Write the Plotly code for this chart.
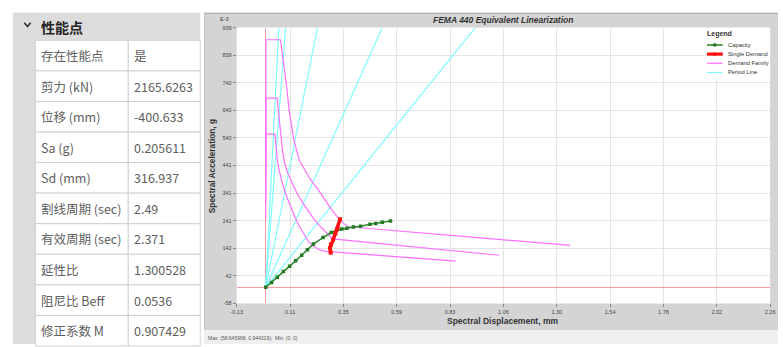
import numpy as np
import plotly.graph_objects as go

W, H = 783, 347

# ---------------- property table (left panel) ----------------
table_title = "性能点"
table_labels = ["存在性能点", "剪力 (kN)", "位移 (mm)", "Sa (g)", "Sd (mm)",
                "割线周期 (sec)", "有效周期 (sec)", "延性比", "阻尼比 Beff", "修正系数 M"]
table_values = ["是", "2165.6263", "-400.633", "0.205611", "316.937",
                "2.49", "2.371", "1.300528", "0.0536", "0.907429"]

# ---------------- chart data (Sa in E-3 g) ----------------
capacity_sd = [0, 0.026, 0.052, 0.079, 0.107, 0.134, 0.161, 0.187, 0.214, 0.257,
               0.294, 0.318, 0.341, 0.364, 0.393, 0.425, 0.467, 0.493, 0.522, 0.559]
capacity_sa = [0, 18, 37, 57, 76, 96, 116, 136, 157, 180,
               198, 206, 211, 214, 218, 221, 228, 231, 235, 240]

single_sd = [0.333, 0.322, 0.312, 0.302, 0.292, 0.288, 0.291]
single_sa = [246, 214, 195, 172, 155, 142, 125]

demand1_sd = [0, 0.001, 0.066, 0.076, 0.092, 0.105, 0.125, 0.150, 0.170, 0.200,
              0.235, 0.265, 0.294, 0.320, 0.345, 0.370, 1.364]
demand1_sa = [403, 895, 895, 839, 738, 640, 537, 460, 432, 390,
              353, 315, 282, 256, 234, 219, 152]

demand2_sd = [0, 0.001, 0.051, 0.058, 0.066, 0.075, 0.085, 0.100, 0.117, 0.140,
              0.169, 0.200, 0.220, 0.250, 0.280, 0.300, 1.045]
demand2_sa = [308, 684, 684, 620, 550, 495, 448, 410, 380, 340,
              302, 268, 242, 215, 192, 175, 116]

demand3_sd = [0, 0.001, 0.041, 0.046, 0.052, 0.060, 0.070, 0.088, 0.110, 0.130,
              0.147, 0.170, 0.191, 0.215, 0.242, 0.270, 0.851]
demand3_sa = [249, 554, 554, 505, 460, 425, 390, 341, 292, 255,
              226, 192, 166, 148, 136, 130, 95]

# Sd at which each period line reaches the top of the chart (Sa = 939 E-3)
period_sd_top = [0.0587, 0.089, 0.232, 0.5225, 0.939]
period_sa_top = 939

x_tick_labels = ["-0.13", "0.11", "0.35", "0.59", "0.83", "1.06", "1.30", "1.54", "1.78", "2.02", "2.26"]
y_tick_labels = ["-58", "42", "142", "241", "341", "441", "540", "640", "740", "839", "939"]

legend_names = ["Capacity", "Single Demand", "Demand Family", "Period Line"]

C_CAP = "#2e8b2e"
C_SINGLE = "#ff1010"
C_DEM = "#ff6eff"
C_PER = "#7ffcff"

# ---------------- geometry helpers (pixel -> paper) ----------------
def px(x):
    return x / W

def py(y):
    return 1 - y / H

PL, PR, PT, PB = 234, 775, 25, 305.7

x_min, x_max = float(x_tick_labels[0]), float(x_tick_labels[-1])
y_min, y_max = float(y_tick_labels[0]), float(y_tick_labels[-1])

fig = go.Figure()

# period lines
for xt in period_sd_top:
    fig.add_trace(go.Scatter(x=[0, xt], y=[0, period_sa_top], mode="lines",
                             line=dict(color=C_PER, width=1.2), hoverinfo="skip", showlegend=False))
# demand family
for sd, sa in [(demand1_sd, demand1_sa), (demand2_sd, demand2_sa), (demand3_sd, demand3_sa)]:
    fig.add_trace(go.Scatter(x=sd, y=sa, mode="lines",
                             line=dict(color=C_DEM, width=1.2), hoverinfo="skip", showlegend=False))
# capacity
fig.add_trace(go.Scatter(x=capacity_sd, y=capacity_sa, mode="lines+markers",
                         line=dict(color=C_CAP, width=1.6),
                         marker=dict(symbol="square", size=3.5, color="#237a23"),
                         hoverinfo="skip", showlegend=False))
# single demand
fig.add_trace(go.Scatter(x=single_sd, y=single_sa, mode="lines+markers",
                         line=dict(color=C_SINGLE, width=3.5),
                         marker=dict(symbol="square", size=4, color=C_SINGLE),
                         hoverinfo="skip", showlegend=False))

def rect(x0, y0, x1, y1, fill, line_color=None, lw=0, layer="below"):
    return dict(type="rect", xref="paper", yref="paper",
                x0=px(x0), x1=px(x1), y0=py(y1), y1=py(y0),
                fillcolor=fill, layer=layer,
                line=dict(color=line_color or fill, width=lw))

def seg(x0, y0, x1, y1, color, lw, layer="below"):
    return dict(type="line", xref="paper", yref="paper",
                x0=px(x0), x1=px(x1), y0=py(y0), y1=py(y1),
                line=dict(color=color, width=lw), layer=layer)

shapes = []
# left panel
shapes.append(rect(7, 10, 30, 347, "#dcdcdc"))
shapes.append(rect(7, 10, 197, 38, "#dcdcdc"))
row_top, row_h = 38, 31.1
for i in range(len(table_labels)):
    y0 = row_top + row_h * i
    y1 = y0 + row_h
    shapes.append(rect(30, y0, 124, y1, "white", "#d0d0d0", 1))
    shapes.append(rect(124, y0, 197, y1, "white", "#d0d0d0", 1))
# chevron
shapes.append(dict(type="path", xref="paper", yref="paper",
                   path=f"M{px(18.5)},{py(20)} L{px(21.8)},{py(24)} L{px(25)},{py(20)}",
                   line=dict(color="#333333", width=1.6), layer="above"))
# chart panel
shapes.append(rect(201, 10, 783, 333, "#d4d4d4"))
shapes.append(seg(201, 10.5, 783, 10.5, "#a8a8a8", 1))
shapes.append(seg(201.5, 10, 201.5, 333, "#c4c4c4", 1))
shapes.append(rect(201, 333, 783, 347, "#efefef"))
shapes.append(rect(PL, PT, PR, PB, "white"))

# custom legend
shapes.append(rect(708, 26, 775, 77, "white", layer="above"))
leg_y = [42.7, 52, 61.3, 70.7]
leg_w = [1.6, 3.2, 1.2, 1.2]
leg_c = [C_CAP, C_SINGLE, C_DEM, C_PER]
for yy, ww, cc in zip(leg_y, leg_w, leg_c):
    shapes.append(seg(711, yy, 727, yy, cc, ww, layer="above"))
for yy, cc in [(leg_y[0], "#237a23"), (leg_y[1], C_SINGLE)]:
    shapes.append(rect(717.3, yy - 1.6, 720.5, yy + 1.6, cc, layer="above"))

annotations = []
FONT = "Liberation Sans, Arial, sans-serif"
CJK = "Noto Sans CJK SC, Noto Sans, sans-serif"

def ann(x, y, text, size, color="#333", xanchor="left", family=FONT, angle=0):
    annotations.append(dict(x=px(x), y=py(y), xref="paper", yref="paper", text=text,
                            showarrow=False, xanchor=xanchor, yanchor="middle",
                            textangle=angle, font=dict(size=size, color=color, family=family)))

ann(33, 24, "<b>" + table_title + "</b>", 14, "#222222", family=CJK)
for i, (lab, val) in enumerate(zip(table_labels, table_values)):
    yc = row_top + row_h * (i + 0.5)
    ann(33, yc, lab, 12.5, "#606060", family=CJK)
    ann(128, yc, val, 12.5, "#606060", family=CJK)

ann(504, 17.5, "<b><i>FEMA 440 Equivalent Linearization</i></b>", 8.5, "#333333", xanchor="center")
ann(222, 16, "E-3", 5.5, "#444444", xanchor="center")
ann(209, 166, "<b>Spectral Acceleration, g</b>", 8.3, "#333333", xanchor="center", angle=-90)
ann(504, 324, "<b>Spectral Displacement, mm</b>", 8.5, "#333333", xanchor="center")
ann(203, 341, "Max: (58.645968, 0.944319);  Min: (0, 0)", 5, "#555555")

ann(709, 32, "<b>Legend</b>", 7, "#333333")
for yy, name in zip(leg_y, legend_names):
    ann(730, yy, name, 5.8, "#333333")

fig.update_layout(
    width=W, height=H, autosize=False,
    margin=dict(l=0, r=0, t=0, b=0, pad=0),
    paper_bgcolor="white", plot_bgcolor="white",
    showlegend=False,
    font=dict(family=FONT),
    shapes=shapes, annotations=annotations,
    xaxis=dict(domain=[px(PL), px(PR)], range=[x_min, x_max],
               tickvals=list(np.linspace(x_min, x_max, len(x_tick_labels))),
               ticktext=x_tick_labels, tickfont=dict(size=5.5, color="#444444"),
               ticks="outside", ticklen=3, tickcolor="#888888", tickwidth=1,
               showgrid=True, gridcolor="#e4e4e4", gridwidth=1.2,
               zeroline=True, zerolinecolor="#ff9a9a", zerolinewidth=1.2,
               showline=False, fixedrange=True),
    yaxis=dict(domain=[py(PB), py(PT)], range=[y_min, y_max],
               tickvals=list(np.linspace(y_min, y_max, len(y_tick_labels))),
               ticktext=y_tick_labels, tickfont=dict(size=5.5, color="#444444"),
               ticks="outside", ticklen=3, tickcolor="#888888", tickwidth=1,
               showgrid=True, gridcolor="#e4e4e4", gridwidth=1.2,
               zeroline=True, zerolinecolor="#ff9a9a", zerolinewidth=1.2,
               showline=False, fixedrange=True),
)

fig.write_html("out.html", config={"displayModeBar": False},
               post_script="document.body.style.margin='0';document.body.style.overflow='hidden';")
